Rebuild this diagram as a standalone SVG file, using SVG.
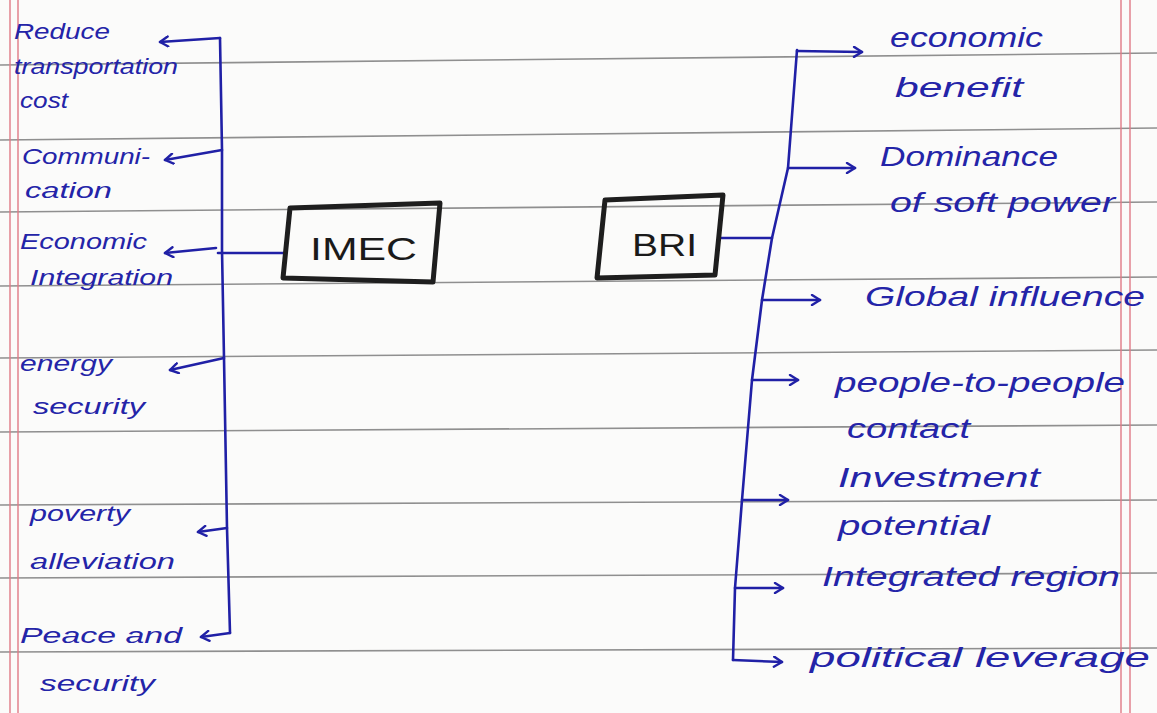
<svg xmlns="http://www.w3.org/2000/svg" width="1157" height="713" viewBox="0 0 1157 713">
<style>
.paper{fill:#fbfbfa}
.rule{stroke:#8f8f8f;stroke-width:1.6;fill:none}
.margin{stroke:#e07a86;stroke-width:1.4;fill:none}
.box{fill:none;stroke:#1e1e1e;stroke-width:5;stroke-linejoin:round}
.boxt{font-family:"Liberation Sans",Arial,sans-serif;font-size:31px;fill:#1a1a1a}
.ink{stroke:#2020a6;stroke-width:2.6;fill:none;stroke-linecap:round;stroke-linejoin:round}
.lt{font-family:"Liberation Sans",Arial,sans-serif;font-style:italic;font-size:22px;fill:#2424a8}
.rt{font-family:"Liberation Sans",Arial,sans-serif;font-style:italic;font-size:28px;fill:#2424a8}
</style>
<defs>
<marker id="ah" viewBox="0 0 12 12" refX="10" refY="6" markerWidth="12" markerHeight="12" markerUnits="userSpaceOnUse" orient="auto">
<path d="M2 1 L10 6 L2 11" fill="none" stroke="#2020a6" stroke-width="2.4" stroke-linecap="round" stroke-linejoin="round"/>
</marker>
</defs>
<rect class="paper" x="0" y="0" width="1157" height="713"/>
<g id="ruling">
<path class="rule" d="M0 65 L1157 53"/>
<path class="rule" d="M0 140 L1157 128"/>
<path class="rule" d="M0 212 L1157 202"/>
<path class="rule" d="M0 286 L1157 277"/>
<path class="rule" d="M0 358 L1157 350"/>
<path class="rule" d="M0 432 L1157 425"/>
<path class="rule" d="M0 505 L1157 500"/>
<path class="rule" d="M0 578 L1157 573"/>
<path class="rule" d="M0 652 L1157 648"/>
<path class="margin" d="M10 0 L10 713 M18 0 L18 713"/>
<path class="margin" d="M1121 0 L1121 713 M1130 0 L1130 713"/>
</g>
<g id="connectors">
<path class="ink" d="M285 253 L218 253"/>
<path class="ink" d="M220 38 L222 150 L222 250 L224 358 L227 528 L230 633"/>
<path class="ink" marker-end="url(#ah)" d="M220 38 L160 42"/>
<path class="ink" marker-end="url(#ah)" d="M222 150 L165 160"/>
<path class="ink" marker-end="url(#ah)" d="M216 248 L165 253"/>
<path class="ink" marker-end="url(#ah)" d="M224 358 L170 370"/>
<path class="ink" marker-end="url(#ah)" d="M227 528 L198 532"/>
<path class="ink" marker-end="url(#ah)" d="M230 633 L201 637"/>
<path class="ink" d="M720 238 L772 238"/>
<path class="ink" d="M797 50 L788 168 L772 238 L762 300 L752 380 L742 500 L735 588 L733 660"/>
<path class="ink" marker-end="url(#ah)" d="M797 51 L862 52"/>
<path class="ink" marker-end="url(#ah)" d="M788 168 L855 168"/>
<path class="ink" marker-end="url(#ah)" d="M762 300 L820 300"/>
<path class="ink" marker-end="url(#ah)" d="M752 380 L798 380"/>
<path class="ink" marker-end="url(#ah)" d="M742 500 L788 500"/>
<path class="ink" marker-end="url(#ah)" d="M735 588 L783 588"/>
<path class="ink" marker-end="url(#ah)" d="M733 660 L782 662"/>
</g>
<g id="imec">
<path class="box" d="M290 208 L440 203 L433 282 L283 278 Z"/>
<text class="boxt" x="310" y="260" textLength="107" lengthAdjust="spacingAndGlyphs">IMEC</text>
</g>
<g id="bri">
<path class="box" d="M605 200 L723 195 L715 275 L597 278 Z"/>
<text class="boxt" x="632" y="256" textLength="65" lengthAdjust="spacingAndGlyphs">BRI</text>
</g>
<g id="reduce-transportation-cost">
<text class="lt" x="14" y="39" textLength="96" lengthAdjust="spacingAndGlyphs">Reduce</text>
<text class="lt" x="14" y="74" textLength="164" lengthAdjust="spacingAndGlyphs">transportation</text>
<text class="lt" x="20" y="108" textLength="48" lengthAdjust="spacingAndGlyphs">cost</text>
</g>
<g id="communication">
<text class="lt" x="22" y="164" textLength="128" lengthAdjust="spacingAndGlyphs">Communi-</text>
<text class="lt" x="25" y="198" textLength="87" lengthAdjust="spacingAndGlyphs">cation</text>
</g>
<g id="economic-integration">
<text class="lt" x="20" y="249" textLength="127" lengthAdjust="spacingAndGlyphs">Economic</text>
<text class="lt" x="30" y="285" textLength="143" lengthAdjust="spacingAndGlyphs">Integration</text>
</g>
<g id="energy-security">
<text class="lt" x="20" y="371" textLength="92" lengthAdjust="spacingAndGlyphs">energy</text>
<text class="lt" x="33" y="414" textLength="112" lengthAdjust="spacingAndGlyphs">security</text>
</g>
<g id="poverty-alleviation">
<text class="lt" x="30" y="521" textLength="100" lengthAdjust="spacingAndGlyphs">poverty</text>
<text class="lt" x="30" y="569" textLength="145" lengthAdjust="spacingAndGlyphs">alleviation</text>
</g>
<g id="peace-and-security">
<text class="lt" x="20" y="643" textLength="162" lengthAdjust="spacingAndGlyphs">Peace and</text>
<text class="lt" x="40" y="691" textLength="115" lengthAdjust="spacingAndGlyphs">security</text>
</g>
<g id="economic-benefit">
<text class="rt" x="890" y="47" textLength="153" lengthAdjust="spacingAndGlyphs">economic</text>
<text class="rt" x="895" y="97" textLength="128" lengthAdjust="spacingAndGlyphs">benefit</text>
</g>
<g id="dominance-soft-power">
<text class="rt" x="880" y="166" textLength="178" lengthAdjust="spacingAndGlyphs">Dominance</text>
<text class="rt" x="890" y="212" textLength="225" lengthAdjust="spacingAndGlyphs">of soft power</text>
</g>
<g id="global-influence">
<text class="rt" x="865" y="306" textLength="280" lengthAdjust="spacingAndGlyphs">Global influence</text>
</g>
<g id="people-to-people">
<text class="rt" x="835" y="392" textLength="290" lengthAdjust="spacingAndGlyphs">people-to-people</text>
<text class="rt" x="847" y="438" textLength="123" lengthAdjust="spacingAndGlyphs">contact</text>
</g>
<g id="investment-potential">
<text class="rt" x="838" y="487" textLength="202" lengthAdjust="spacingAndGlyphs">Investment</text>
<text class="rt" x="838" y="535" textLength="152" lengthAdjust="spacingAndGlyphs">potential</text>
</g>
<g id="integrated-region">
<text class="rt" x="822" y="586" textLength="298" lengthAdjust="spacingAndGlyphs">Integrated region</text>
</g>
<g id="political-leverage">
<text class="rt" x="810" y="667" textLength="340" lengthAdjust="spacingAndGlyphs">political leverage</text>
</g>
</svg>
